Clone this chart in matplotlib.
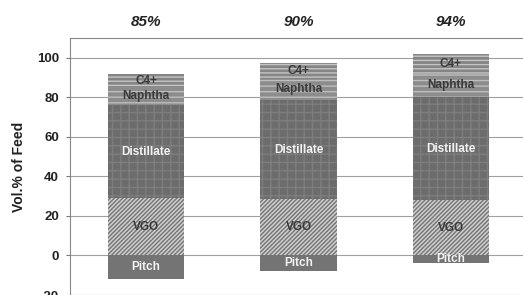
import matplotlib
matplotlib.use("Agg")
import matplotlib.pyplot as plt
import numpy as np

plt.rcParams['font.family'] = ['Liberation Sans', 'DejaVu Sans']
plt.rcParams['hatch.linewidth'] = 1.0

categories = ['85%', '90%', '94%']
pitch = [-12, -8, -4]
vgo = [29, 28.5, 28]
distillate = [47, 50, 52]
naphtha = [9, 11, 12]
c4plus = [7, 8, 10]
yticks = [-20, 0, 20, 40, 60, 80, 100]

fig = plt.figure(figsize=(5.23, 2.95), dpi=100)
ax = fig.add_axes([70/523, 0.0, 457/523, 1 - 38/295])
ax.set_xlim(-0.5, 2.5)
ax.set_ylim(-20, 110)

x = np.arange(len(categories))
w = 0.5

for yv in yticks:
    ax.axhline(yv, color='#a0a0a0', lw=0.8, zorder=0)

vgo_a = np.array(vgo)
dist_a = np.array(distillate)
naph_a = np.array(naphtha)
c4_a = np.array(c4plus)

# Pitch
ax.bar(x, pitch, w, color='#747474', edgecolor='#747474', lw=0, zorder=2)
# VGO
ax.bar(x, vgo_a, w, color='#cfcfcf', edgecolor='#747474', hatch='////////', lw=0, zorder=2)
# Distillate
ax.bar(x, dist_a, w, bottom=vgo_a, color='#6c6c6c', edgecolor='#7e7e7e', hatch='++', lw=0, zorder=2)
# Naphtha
b2 = vgo_a + dist_a
ax.bar(x, naph_a, w, bottom=b2, color='#8c8c8c', edgecolor='#bdbdbd', hatch='---', lw=0, zorder=2)
# C4+
b3 = b2 + naph_a
ax.bar(x, c4_a, w, bottom=b3, color='#858585', edgecolor='#c4c4c4', hatch='----', lw=0, zorder=2)

lab = dict(ha='center', va='center', fontsize=8.5, fontweight='bold', zorder=5)
for i in range(len(categories)):
    ax.text(x[i], pitch[i] / 2, 'Pitch', color='#f2f2f2', **lab)
    ax.text(x[i], vgo[i] / 2, 'VGO', color='#3a3a3a', **lab)
    ax.text(x[i], vgo[i] + distillate[i] / 2, 'Distillate', color='#f2f2f2', **lab)
    ax.text(x[i], b2[i] + naphtha[i] / 2, 'Naphtha', color='#3a3a3a', **lab)
    ax.text(x[i], b3[i] + c4plus[i] / 2, 'C4+', color='#3a3a3a', **lab)
    ax.text(x[i], 1.0 + 16/257, categories[i], transform=ax.get_xaxis_transform(),
            ha='center', va='center', fontsize=11, fontweight='bold', style='italic',
            color='#222222')

ax.set_yticks(yticks)
ax.set_yticklabels([str(t) for t in yticks], fontsize=9.5, fontweight='bold', color='#222222')
ax.tick_params(axis='y', length=3, color='#777777', pad=5)
ax.set_xticks([])
for s in ['right', 'bottom']:
    ax.spines[s].set_visible(False)
ax.spines['left'].set_color('#888888')
ax.spines['top'].set_color('#888888')
ax.set_ylabel('Vol.% of Feed', fontsize=10, fontweight='bold', color='#222222', labelpad=8)

fig.savefig('out.png', dpi=100)
